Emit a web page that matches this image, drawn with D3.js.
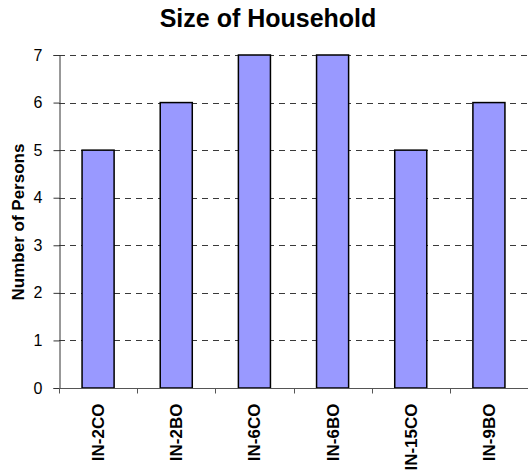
<!DOCTYPE html>
<html>
<head>
<meta charset="utf-8">
<script src="https://cdn.jsdelivr.net/npm/d3@7/dist/d3.min.js"></script>
<style>
  html, body { margin: 0; padding: 0; background: #fff; }
  svg { display: block; font-family: "Liberation Sans", Arial, sans-serif; }
</style>
</head>
<body>
<svg id="chart" width="528" height="475"></svg>
<script>
const categories = ["IN-2CO", "IN-2BO", "IN-6CO", "IN-6BO", "IN-15CO", "IN-9BO"];
const values = [5, 6, 7, 7, 5, 6];
const yTicks = [0, 1, 2, 3, 4, 5, 6, 7];
const title = "Size of Household";
const yLabel = "Number of Persons";

(function () {
const svg = d3.select("#chart");
const mLeft = 59, mRight = 528, mTop = 55, mBottom = 388;

const x = d3.scaleBand().domain(categories).range([mLeft, mRight]).padding(0);
const y = d3.scaleLinear().domain([0, 7]).range([mBottom, mTop]);

// gridlines
svg.append("g").selectAll("line").data(yTicks.filter(d => d > 0)).join("line")
  .attr("x1", mLeft).attr("x2", mRight)
  .attr("y1", d => Math.round(y(d)) + 0.5).attr("y2", d => Math.round(y(d)) + 0.5)
  .attr("stroke", "#3a3a3a").attr("stroke-width", 1)
  .attr("stroke-dasharray", "6,5");

// bars
const bw = x.bandwidth() * 0.41;
svg.append("g").selectAll("rect").data(values).join("rect")
  .attr("x", (d, i) => x(categories[i]) + x.bandwidth() / 2 - bw / 2)
  .attr("y", d => y(d))
  .attr("width", bw)
  .attr("height", d => y(0) - y(d))
  .attr("fill", "#9999ff")
  .attr("stroke", "#000")
  .attr("stroke-width", 1.5);

// y axis
const yAxis = svg.append("g").attr("transform", `translate(${mLeft + 0.5},0)`)
  .call(d3.axisLeft(y).tickValues(yTicks).tickSize(6).tickPadding(11).tickFormat(d3.format("d")));
yAxis.attr("font-size", 16).attr("font-family", "Liberation Sans, Arial, sans-serif");
yAxis.select(".domain").attr("stroke", "#333");
yAxis.selectAll(".tick line").attr("stroke", "#333");
yAxis.selectAll("text").attr("font-size", 16).attr("fill", "#000");

// x axis
const xAxis = svg.append("g").attr("transform", `translate(0,${mBottom + 0.5})`);
xAxis.append("line").attr("x1", mLeft).attr("x2", mRight).attr("y1", 0).attr("y2", 0)
  .attr("stroke", "#555");
const edges = categories.map(c => x(c)).concat([mRight]);
xAxis.selectAll("line.tk").data(edges).join("line").attr("class", "tk")
  .attr("x1", d => Math.round(d) + 0.5).attr("x2", d => Math.round(d) + 0.5)
  .attr("y1", 0).attr("y2", 5).attr("stroke", "#555");
xAxis.selectAll("text").data(categories).join("text")
  .attr("transform", d => `translate(${x(d) + x.bandwidth() / 2 + 6},15) rotate(-90)`)
  .attr("text-anchor", "end")
  .attr("font-size", 17).attr("font-weight", "bold")
  .text(d => d);

// title
svg.append("text").attr("x", 268).attr("y", 27).attr("text-anchor", "middle")
  .attr("font-size", 25).attr("font-weight", "bold").text(title);

// y label
svg.append("text").attr("transform", `translate(24,222) rotate(-90)`)
  .attr("text-anchor", "middle").attr("font-size", 17).attr("font-weight", "bold")
  .text(yLabel);
})();
</script>
</body>
</html>
